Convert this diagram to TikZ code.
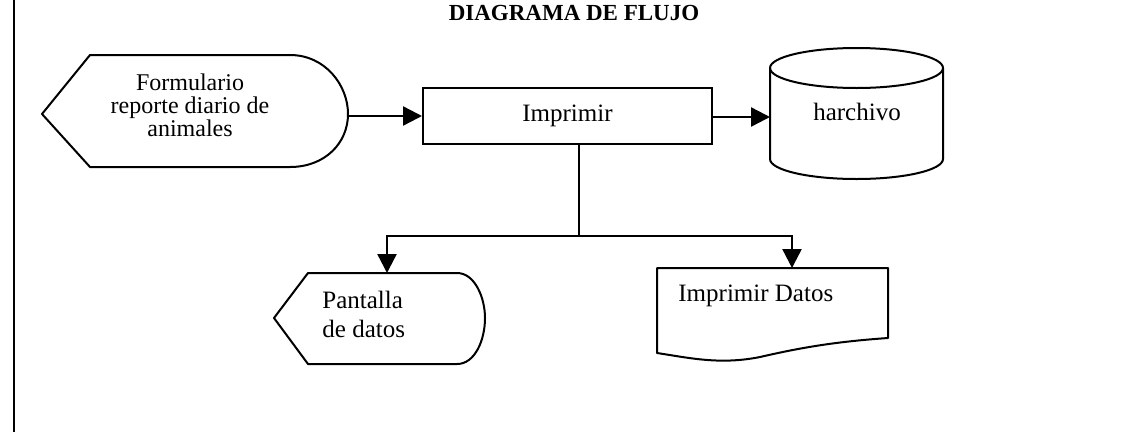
\documentclass[tikz,border=0pt]{standalone}
\usepackage{fontspec}
\setmainfont{Liberation Serif}
\usetikzlibrary{arrows.meta}
\begin{document}
\begin{tikzpicture}[x=0.5pt,y=-0.5pt,
  shp/.style={draw, line width=1pt, line join=round},
  con/.style={draw, line width=1.2pt, -{Triangle[length=9.5pt,width=9.5pt]}},
  txt/.style={font=\fontsize{12.5}{14}\selectfont, inner sep=0pt},
]
\useasboundingbox (0,0) rectangle (1128,434);

% margin line
\coordinate (mtop) at (14,0);
\coordinate (mbot) at (14,432);
\draw[line width=1pt] (mtop) -- (mbot);

% title
\node (title) at (574,13) {\fontsize{11.5}{13}\selectfont\bfseries DIAGRAMA DE FLUJO};

% Formulario (display shape)
\draw[shp] (42,114) -- (90,55) -- (290,55)
  .. controls (325,55) and (348,85) .. (348,114)
  .. controls (348,143) and (325,167) .. (290,167) -- (90,167) -- cycle;
\node[inner sep=0pt, align=center, font=\fontsize{12}{11.5}\selectfont] (form) at (190,105)
  {Formulario\\reporte diario de\\animales};
\coordinate (formR) at (348,116);

% Imprimir (process)
\node[draw, line width=1pt, minimum width=144.5pt, minimum height=28pt, inner sep=0pt,
  font=\fontsize{12.5}{14}\selectfont] (impr) at (567.5,116) {Imprimir};

% harchivo (cylinder)
\draw[shp] (770,68) -- (770,159)
  .. controls (770,170.05) and (808.7,179) .. (856.5,179)
  .. controls (904.3,179) and (943,170.05) .. (943,159) -- (943,68);
\draw[shp] (770,68) .. controls (770,79.05) and (808.7,88) .. (856.5,88)
  .. controls (904.3,88) and (943,79.05) .. (943,68)
  .. controls (943,56.95) and (904.3,48) .. (856.5,48)
  .. controls (808.7,48) and (770,56.95) .. (770,68) -- cycle;
\node[txt] (arch) at (857,112) {harchivo};
\coordinate (archL) at (770,117);

% Pantalla de datos (display shape)
\draw[shp] (274,318) -- (308,273) -- (457,273)
  .. controls (475,273) and (485,298) .. (485,318)
  .. controls (485,340) and (475,364) .. (457,364) -- (308,364) -- cycle;
\node[txt, align=left, anchor=west, font=\fontsize{12.5}{14.5}\selectfont] (pant) at (322,314)
  {Pantalla\\de datos};
\coordinate (pantT) at (387,273);

% Imprimir Datos (document)
\draw[shp] (657,353) -- (657,268) -- (888,268) -- (888,338)
  .. controls (830,342) and (795,349) .. (760,357)
  .. controls (720,365) and (690,358) .. (657,353) -- cycle;
\node[txt, anchor=west] (datos) at (678,296) {Imprimir Datos};
\coordinate (datosT) at (792,268);

% connectors
\coordinate (split) at (579,236);
\draw[con] (formR) -- (formR -| impr.west);
\draw[con] (impr.east |- archL) -- (archL);
\draw[line width=1.4pt] (split |- impr.south) -- (split);
\draw[con] (split) -| (pantT);
\draw[con] (split) -| (datosT);
\end{tikzpicture}
\end{document}
